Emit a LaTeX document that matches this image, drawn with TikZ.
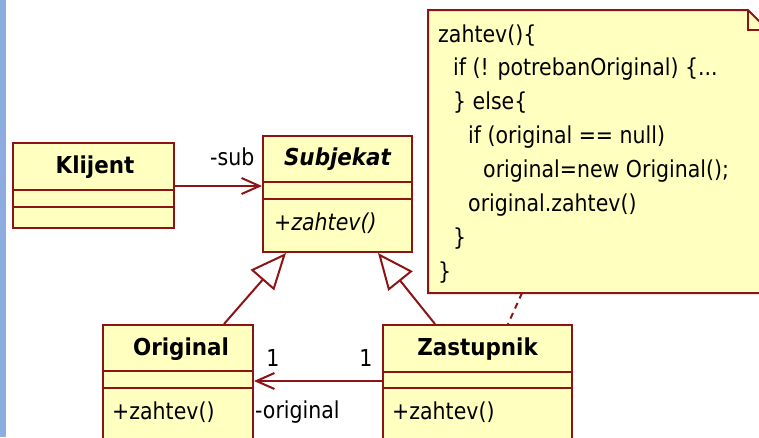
\documentclass[tikz,border=0pt]{standalone}
\usepackage{fontspec}
\setmainfont{DejaVu Sans}[FakeStretch=0.88]
\newfontfamily\bfam{DejaVu Sans}[FakeStretch=0.92]
\usetikzlibrary{arrows.meta,calc}
\definecolor{umlred}{RGB}{140,20,20}
\definecolor{umlfill}{RGB}{255,255,192}
\definecolor{sidebar}{RGB}{141,172,224}
\newcommand\regf{\fontsize{23.3}{26}\selectfont}
\newcommand\boldf{\fontsize{23.3}{26}\selectfont\bfam\bfseries}
\begin{document}
\begin{tikzpicture}[x=1pt,y=-1pt,
  clsbox/.style={draw=umlred, fill=umlfill, line width=2pt, inner sep=0pt, anchor=north west},
  divider/.style={draw=umlred, line width=2pt},
  notebox/.style={draw=umlred, fill=umlfill, line width=2pt, line join=miter},
  txt/.style={inner sep=0pt, anchor=base west, font=\regf},
  itxt/.style={inner sep=0pt, anchor=base west, font=\regf\itshape},
  nametxt/.style={inner sep=0pt, anchor=base, font=\boldf},
  inametxt/.style={inner sep=0pt, anchor=base, font=\boldf\itshape},
  numtxt/.style={inner sep=0pt, anchor=base, font=\regf},
  assoc/.style={draw=umlred, line width=2pt, -{Straight Barb[length=18pt,width=16pt]}},
  gen/.style={draw=umlred, line width=2pt, -{Triangle[fill=white,length=36pt,width=31pt]}},
  dashline/.style={draw=umlred, line width=2pt, dash pattern=on 6pt off 5pt}]
\useasboundingbox (0,0) rectangle (759,437);
\clip (0,0) rectangle (759,437);
\fill[sidebar] (0,0) rectangle (6,437);

% note
\draw[notebox] (428,10) -- (748,10) -- (768,30) -- (768,293) -- (428,293) -- cycle;
\draw[divider] (748,10) -- (748,30) -- (768,30);
\coordinate (notept) at (522,293);
\node[txt] (n1) at (438,42) {zahtev()\{};
\node[txt] (n2) at (453,75.9) {if (! potrebanOriginal) \{...};
\node[txt] (n3) at (453,109.7) {\} else\{};
\node[txt] (n4) at (468,143.6) {if (original == null)};
\node[txt] (n5) at (483,177.4) {original=new Original();};
\node[txt] (n6) at (468,211.3) {original.zahtev()};
\node[txt] (n7) at (453,245.2) {\}};
\node[txt] (n8) at (438,279) {\}};

% Klijent
\node[clsbox, minimum width=161pt, minimum height=85pt] (klijent) at (12,142) {};
\draw[divider] (12,190) -- (173,190);
\draw[divider] (12,207) -- (173,207);
\node[nametxt] (klijentname) at (95,173) {Klijent};

% Subjekat
\node[clsbox, minimum width=149pt, minimum height=116pt] (subj) at (262,135) {};
\draw[divider] (262,182) -- (411,182);
\draw[divider] (262,199) -- (411,199);
\node[inametxt] (subjname) at (337.5,165) {Subjekat};
\node[itxt] (subjop) at (274,230) {+zahtev()};

% Original
\node[clsbox, minimum width=150pt, minimum height=130pt] (org) at (102,324) {};
\draw[divider] (102,371) -- (252,371);
\draw[divider] (102,388) -- (252,388);
\node[nametxt] (orgname) at (181,355) {Original};
\node[txt] (orgop) at (112,419) {+zahtev()};

% Zastupnik
\node[clsbox, minimum width=189pt, minimum height=130pt] (zast) at (382,324) {};
\draw[divider] (382,372) -- (571,372);
\draw[divider] (382,388) -- (571,388);
\node[nametxt] (zastname) at (477.5,355) {Zastupnik};
\node[txt] (zastop) at (392,419) {+zahtev()};

% connectors
\draw[assoc] ($(klijent.north east)+(0,44)$) -- ($(subj.north west)+(0,51)$);
\node[txt] (sublbl) at (210,165) {-sub};
\draw[assoc] ($(zast.north west)+(0,57)$) -- ($(org.north east)+(0,57)$);
\node[numtxt] (m1) at (273,366) {1};
\node[numtxt] (m2) at (366,366) {1};
\node[txt] (origlbl) at (255,418) {-original};
\draw[gen] ($(org.north west)+(122,0)$) -- ($(subj.south west)+(24,0)$);
\draw[gen] ($(zast.north west)+(53,0)$) -- ($(subj.south west)+(116,0)$);
\draw[dashline] (notept) -- ($(zast.north west)+(126,0)$);
\end{tikzpicture}
\end{document}
